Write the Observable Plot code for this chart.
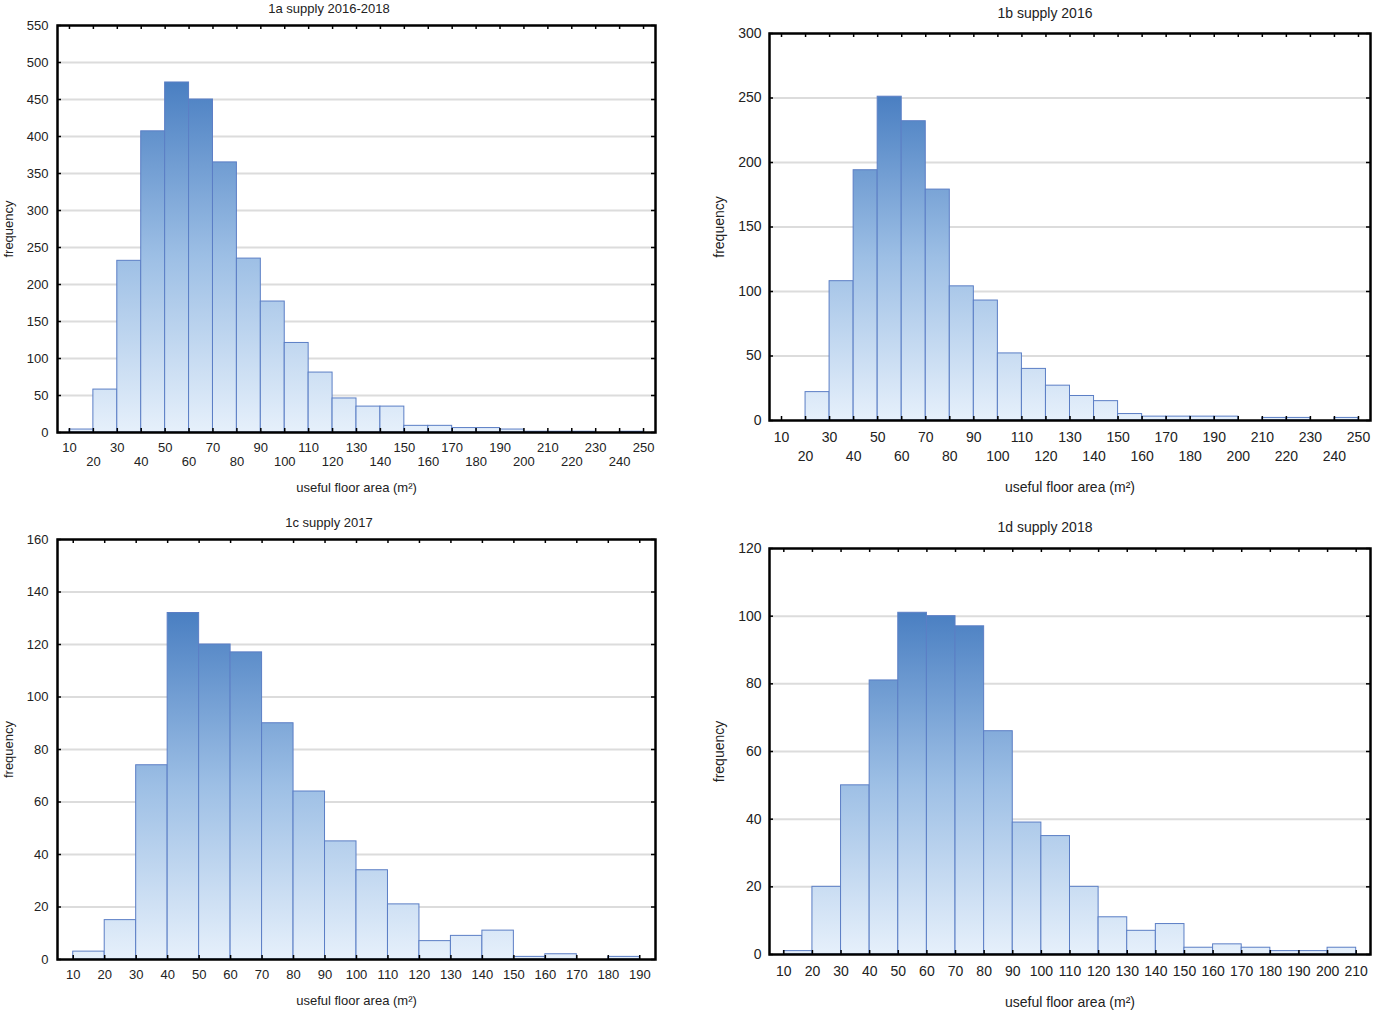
<!DOCTYPE html>
<html>
<head>
<meta charset="utf-8">
<script src="https://cdn.jsdelivr.net/npm/d3@7"></script>
<script src="https://cdn.jsdelivr.net/npm/@observablehq/plot@0.6"></script>
<style>
  body { margin: 0; background: #fff; }
  #root { position: relative; width: 1375px; height: 1013px; font-family: "Liberation Sans", Arial, sans-serif; color: #222; overflow: hidden; }
  .panel { position: absolute; }
  .title { position: absolute; transform: translate(-50%, -50%); white-space: nowrap; }
</style>
</head>
<body>
<div id="root"></div>
<script>
// ---------- data (bin starts, 10 m² wide bins) ----------
const binsA = [10,20,30,40,50,60,70,80,90,100,110,120,130,140,150,160,170,180,190,200,210,220,230,240];
const countsA = [4,58,232,407,473,450,365,235,177,121,81,46,35,35,9,9,6,6,4,1,1,1,0,1];

const binsB = [10,20,30,40,50,60,70,80,90,100,110,120,130,140,150,160,170,180,190,200,210,220,230,240];
const countsB = [0,22,108,194,251,232,179,104,93,52,40,27,19,15,5,3,3,3,3,0,2,2,0,2];

const binsC = [10,20,30,40,50,60,70,80,90,100,110,120,130,140,150,160,170,180];
const countsC = [3,15,74,132,120,117,90,64,45,34,21,7,9,11,1,2,0,1];

const binsD = [10,20,30,40,50,60,70,80,90,100,110,120,130,140,150,160,170,180,190,200];
const countsD = [1,20,50,81,101,100,97,66,39,35,20,11,7,9,2,3,2,1,1,2];

const xTicksAB = [10,20,30,40,50,60,70,80,90,100,110,120,130,140,150,160,170,180,190,200,210,220,230,240,250];
const xTicksC = [10,20,30,40,50,60,70,80,90,100,110,120,130,140,150,160,170,180,190];
const xTicksD = [10,20,30,40,50,60,70,80,90,100,110,120,130,140,150,160,170,180,190,200,210];

const yTicksA = [0,50,100,150,200,250,300,350,400,450,500,550];
const yTicksB = [0,50,100,150,200,250,300];
const yTicksC = [0,20,40,60,80,100,120,140,160];
const yTicksD = [0,20,40,60,80,100,120];

const titles = ["1a supply 2016-2018", "1b supply 2016", "1c supply 2017", "1d supply 2018"];
const xLabel = "useful floor area (m²)";
const yLabel = "frequency";

// ---------- drawing ----------
const root = document.getElementById("root");
const NS = "http://www.w3.org/2000/svg";

function panel(cfg) {
  const {id, left, top, width, height, mt, mr, mb, ml, xDomain, yTicks, xTicks, twoRows,
         bins, counts, fontSize, pad1, pad2, xLabelOffset, yLabelOffset, yPad, title, titleX, titleY} = cfg;
  const yMax = yTicks[yTicks.length - 1];
  const plotW = width - ml - mr, plotH = height - mt - mb;
  const data = bins.map((b, i) => ({lo: b, hi: b + 10, n: counts[i]})).filter(d => d.n > 0);
  const row1 = twoRows ? xTicks.filter((_, i) => i % 2 === 0) : xTicks;
  const row2 = twoRows ? xTicks.filter((_, i) => i % 2 === 1) : [];
  const tickLen = 4;
  const marks = [
    Plot.gridY(yTicks.filter(v => v > 0 && v < yMax), {stroke: "#dcdcdc", strokeOpacity: 1, strokeWidth: 2}),
    Plot.rectY(data, {x1: "lo", x2: "hi", y: "n", fill: `url(#grad-${id})`, stroke: "#5b7ec5", strokeWidth: 1}),
    Plot.ruleX(xTicks, {stroke: "#000", strokeWidth: 1.5, insetTop: plotH - tickLen}),
    Plot.ruleX(xTicks, {stroke: "#000", strokeWidth: 1.5, insetBottom: plotH - tickLen}),
    Plot.ruleY(yTicks, {stroke: "#000", strokeWidth: 1.5, insetRight: plotW - tickLen}),
    Plot.ruleY(yTicks, {stroke: "#000", strokeWidth: 1.5, insetLeft: plotW - tickLen}),
    Plot.frame({stroke: "#000", strokeWidth: 2.5}),
    Plot.axisY(yTicks, {tickSize: 0, tickPadding: yPad, label: yLabel, labelAnchor: "center", labelArrow: "none", labelOffset: yLabelOffset}),
    Plot.axisX(row1, {tickSize: 0, tickPadding: pad1, label: xLabel, labelAnchor: "center", labelArrow: "none", labelOffset: xLabelOffset})
  ];
  if (row2.length) marks.push(Plot.axisX(row2, {tickSize: 0, tickPadding: pad2, label: null}));

  const plot = Plot.plot({
    width, height,
    marginTop: mt, marginRight: mr, marginBottom: mb, marginLeft: ml,
    style: {fontFamily: "'Liberation Sans', Arial, sans-serif", fontSize: fontSize + "px", color: "#222", background: "transparent", overflow: "visible"},
    x: {domain: xDomain},
    y: {domain: [0, yMax]},
    marks
  });

  // vertical gradient: light at the baseline, dark at the tallest bar
  const ys = plot.scale("y");
  const yBase = ys.apply(0), yTop = ys.apply(d3.max(counts));
  const defs = document.createElementNS(NS, "defs");
  const lg = document.createElementNS(NS, "linearGradient");
  lg.setAttribute("id", `grad-${id}`);
  lg.setAttribute("gradientUnits", "userSpaceOnUse");
  lg.setAttribute("x1", 0); lg.setAttribute("x2", 0);
  lg.setAttribute("y1", yBase); lg.setAttribute("y2", yTop);
  [["0", "#e6f0fb"], ["0.5", "#9dbfe5"], ["1", "#4a7fc2"]].forEach(([o, c]) => {
    const s = document.createElementNS(NS, "stop");
    s.setAttribute("offset", o); s.setAttribute("stop-color", c);
    lg.appendChild(s);
  });
  defs.appendChild(lg);
  plot.insertBefore(defs, plot.firstChild);

  const wrap = document.createElement("div");
  wrap.className = "panel";
  wrap.style.left = left + "px"; wrap.style.top = top + "px";
  wrap.appendChild(plot);
  root.appendChild(wrap);

  const t = document.createElement("div");
  t.className = "title";
  t.textContent = title;
  t.style.left = titleX + "px"; t.style.top = titleY + "px";
  t.style.fontSize = fontSize + "px";
  root.appendChild(t);
}

panel({id: "a", left: 0, top: 0, width: 680, height: 505, mt: 25, mr: 25, mb: 73, ml: 57,
  xDomain: [5, 255], yTicks: yTicksA, xTicks: xTicksAB, twoRows: true, bins: binsA, counts: countsA,
  fontSize: 13, pad1: 10, pad2: 24, xLabelOffset: 59, yLabelOffset: 54, yPad: 9,
  title: titles[0], titleX: 329, titleY: 8});

panel({id: "b", left: 690, top: 0, width: 685, height: 505, mt: 33, mr: 5, mb: 85, ml: 79,
  xDomain: [5, 255], yTicks: yTicksB, xTicks: xTicksAB, twoRows: true, bins: binsB, counts: countsB,
  fontSize: 14, pad1: 12, pad2: 31, xLabelOffset: 71, yLabelOffset: 55, yPad: 8,
  title: titles[1], titleX: 1045, titleY: 13});

panel({id: "c", left: 0, top: 505, width: 680, height: 508, mt: 34, mr: 25, mb: 54, ml: 57,
  xDomain: [5, 195], yTicks: yTicksC, xTicks: xTicksC, twoRows: false, bins: binsC, counts: countsC,
  fontSize: 13, pad1: 10, pad2: 0, xLabelOffset: 45, yLabelOffset: 54, yPad: 9,
  title: titles[2], titleX: 329, titleY: 522});

panel({id: "d", left: 690, top: 505, width: 685, height: 508, mt: 43, mr: 5, mb: 59, ml: 79,
  xDomain: [5, 215], yTicks: yTicksD, xTicks: xTicksD, twoRows: false, bins: binsD, counts: countsD,
  fontSize: 14, pad1: 12, pad2: 0, xLabelOffset: 52, yLabelOffset: 55, yPad: 8,
  title: titles[3], titleX: 1045, titleY: 527});
</script>
</body>
</html>
